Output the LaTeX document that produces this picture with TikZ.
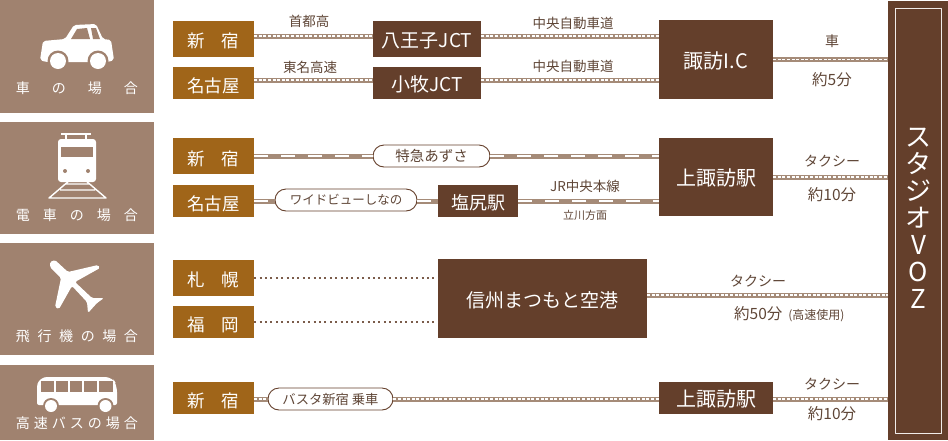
\documentclass[tikz,border=0pt]{standalone}
\usepackage{fontspec}
\setmainfont{Noto Sans CJK JP}
\usetikzlibrary{positioning,shapes.misc}
\definecolor{panelbrown}{RGB}{160, 130, 111}
\definecolor{ochre}{RGB}{160, 101, 25}
\definecolor{darkbrown}{RGB}{100, 63, 43}
\definecolor{linebrown}{RGB}{165, 139, 120}
\definecolor{textbrown}{RGB}{95, 70, 55}

\begin{document}
\begin{tikzpicture}[x=1pt,y=-1pt,line join=round,
    panel/.style={fill=panelbrown,draw=none,inner sep=0pt,minimum width=154pt,anchor=north west},
    panellabel/.style={text=white,font=\fontsize{14}{14}\selectfont,inner sep=0pt},
    icon/.style={fill=white,draw=none},
    iconcut/.style={fill=panelbrown,draw=none},
    cityA/.style={fill=ochre,text=white,inner sep=0pt,minimum width=81pt,text height=18pt,text depth=0pt,font=\fontsize{17.5}{17.5}\selectfont},
    hub/.style={fill=darkbrown,text=white,inner sep=0pt,text height=17pt,text depth=0pt,font=\fontsize{19}{19}\selectfont},
    pill/.style={rounded rectangle,draw=darkbrown,fill=white,line width=0.9pt,inner sep=0pt,text=textbrown,minimum height=22pt},
    note/.style={text=textbrown,inner sep=0pt,font=\fontsize{15.5}{16}\selectfont},
    smallnote/.style={note,font=\fontsize{13.5}{14}\selectfont},
    road/.style={draw=linebrown,line width=5pt,postaction={draw=white,line width=1.3pt,dash pattern=on 3pt off 1.6pt}},
    rail/.style={draw=linebrown,line width=5pt,postaction={draw=white,line width=2.4pt,dash pattern=on 13.5pt off 13.5pt}},
    dots/.style={draw=darkbrown!85!white,line width=2pt,dash pattern=on 2pt off 3.4pt}]
    \useasboundingbox (0,0) rectangle (948,440);

    % left panels
    \node[panel,minimum height=113pt] (carpanel) at (0,0) {};
    \node[panel,minimum height=112pt] (trainpanel) at (0,122) {};
    \node[panel,minimum height=112pt] (planepanel) at (0,243) {};
    \node[panel,minimum height=75pt] (buspanel) at (0,365) {};
    \node[panellabel] at (77,88) {車\hspace{22pt}の\hspace{22pt}場\hspace{22pt}合};
    \node[panellabel] at (77,215) {電\hspace{13pt}車\hspace{13pt}の\hspace{13pt}場\hspace{13pt}合};
    \node[panellabel] at (77,336) {飛\hspace{7.6pt}行\hspace{7.6pt}機\hspace{7.6pt}の\hspace{7.6pt}場\hspace{7.6pt}合};
    \node[panellabel] at (77,423) {高\hspace{4pt}速\hspace{4pt}バ\hspace{4pt}ス\hspace{4pt}の\hspace{4pt}場\hspace{4pt}合};

    % car
    \fill[icon,rounded corners=2pt] (40,60) -- (43,41) -- (65,39) -- (74,25) -- (96,24) -- (103,39) -- (111,40) -- (114,60) -- (108,62) -- (46,62) -- cycle;
    \fill[iconcut] (71,39) -- (77,29) -- (87,28) -- (90,39) -- cycle;
    \fill[iconcut] (91,28) -- (96,28) -- (100,39) -- (93,39) -- cycle;
    \fill[iconcut] (58,61) circle (10.5);
    \fill[iconcut] (98,61) circle (10.5);
    \fill[icon] (58,61) circle (8);
    \fill[icon] (98,61) circle (8);

    % train
    \draw[white,line width=1.6pt] (61,134) -- (91,134) (66,134) -- (66,140) (86,134) -- (86,140);
    \fill[icon,rounded corners=3pt] (58,139) rectangle (96,182);
    \fill[iconcut] (61,147) rectangle (93,157);
    \fill[iconcut] (65,171) circle (2);
    \fill[iconcut] (88,171) circle (2);
    \draw[white,line width=1.4pt] (70,180) -- (49,198) -- (106,198) -- (85,180) (66,184) -- (89,184) (60,190) -- (95,190);

    % plane
    \fill[icon,rounded corners=1.5pt] (50,267) -- (50,262) -- (55,260) -- (68,272) -- (98,265) -- (100,268) -- (75,282) -- (92,298) -- (104,298) -- (97,303) -- (88,313) -- (87,302) -- (72,286) -- (59,309) -- (55,307) -- (61,278) -- cycle;

    % bus
    \fill[icon,rounded corners=2pt] (37,405) -- (37,385) [rounded corners=7pt] -- (40,377) -- (112,377) -- (117,385) [rounded corners=2pt] -- (117,405) -- cycle;
    \foreach \xa/\xb in {41/54,56/68,70/82,84/97,99/113}
        \fill[iconcut] (\xa,381) rectangle (\xb,392);
    \fill[iconcut] (51,406) circle (8);
    \fill[iconcut] (105.5,406) circle (8);
    \fill[icon] (51,406) circle (6);
    \fill[icon] (105.5,406) circle (6);

    % start boxes
    \node[cityA,minimum height=36pt] (shinjukuA) at (213.5,38.5) {新\hspace{17pt}宿};
    \node[cityA,minimum height=32pt] (nagoyaA) at (213.5,83) {名古屋};
    \node[cityA,minimum height=36pt] (shinjukuB) at (213.5,156) {新\hspace{17pt}宿};
    \node[cityA,minimum height=32pt] (nagoyaB) at (213.5,201) {名古屋};
    \node[cityA,minimum height=36pt] (sapporo) at (213.5,277.5) {札\hspace{17pt}幌};
    \node[cityA,minimum height=32pt] (fukuoka) at (213.5,322) {福\hspace{17pt}岡};
    \node[cityA,minimum height=32pt] (shinjukuC) at (213.5,398) {新\hspace{17pt}宿};

    % brown boxes
    \node[hub,minimum width=108pt,minimum height=36pt] (hachioji) at (427,38.5) {八王子JCT};
    \node[hub,minimum width=108pt,minimum height=32pt] (komaki) at (427,83) {小牧JCT};
    \node[hub,minimum width=114pt,minimum height=79pt,font=\fontsize{20}{20}\selectfont] (suwaIC) at (716,59.5) {諏訪I.C};
    \node[hub,minimum width=114pt,minimum height=78pt,font=\fontsize{20}{20}\selectfont] (kamisuwaA) at (716,177) {上諏訪駅};
    \node[hub,minimum width=80pt,minimum height=32pt,font=\fontsize{18}{18}\selectfont] (shiojiri) at (478,201) {塩尻駅};
    \node[hub,minimum width=209pt,minimum height=79pt] (airport) at (542.5,298.5) {信州まつもと空港};
    \node[hub,minimum width=114pt,minimum height=32pt,font=\fontsize{20}{20}\selectfont] (kamisuwaB) at (716,398) {上諏訪駅};
    \node[fill=darkbrown,minimum width=60pt,minimum height=439pt,inner sep=0pt,anchor=north west] (studio) at (888,1) {};
    \draw[white!85!panelbrown,line width=1pt] (895,8) rectangle (941,433);
    \node[text=white,align=center,inner sep=0pt,font=\fontsize{26}{27}\selectfont] at (918.5,218) {ス\\タ\\ジ\\オ\\V\\O\\Z};

    % pills
    \node[pill,minimum width=117pt,font=\fontsize{14.5}{15}\selectfont] (azusa) at (431.5,156) {特急あずさ};
    \node[pill,minimum width=142pt,font=\fontsize{12.5}{13}\selectfont] (shinano) at (346,200) {ワイドビューしなの};
    \node[pill,minimum width=125pt,font=\fontsize{13.3}{14}\selectfont] (busta) at (330.5,399) {バスタ新宿 乗車};

    % levels of the lines
    \coordinate (R1) at (0,36);
    \coordinate (R2) at (0,80);
    \coordinate (R3) at (0,399);
    \coordinate (R4) at (0,278);
    \coordinate (R5) at (0,295);

    \draw[road] (shinjukuA.east |- R1) -- (hachioji.west |- R1);
    \draw[road] (hachioji.east |- R1) -- (suwaIC.west |- R1);
    \draw[road] (nagoyaA.east |- R2) -- (komaki.west |- R2);
    \draw[road] (komaki.east |- R2) -- (suwaIC.west |- R2);
    \draw[road] (suwaIC.east) -- (suwaIC.east -| studio.west);

    \draw[rail] (shinjukuB.east) -- (azusa.west);
    \draw[rail] (azusa.east) -- (azusa.east -| kamisuwaA.west);
    \draw[rail] (nagoyaB.east) -- (nagoyaB.east -| shinano.west);
    \draw[rail] (shinano.east |- shiojiri.west) -- (shiojiri.west);
    \draw[rail] (shiojiri.east) -- (shiojiri.east -| kamisuwaA.west);
    \draw[road] (kamisuwaA.east) -- (kamisuwaA.east -| studio.west);

    \draw[dots] (sapporo.east |- R4) -- (airport.west |- R4);
    \draw[dots] (fukuoka.east) -- (fukuoka.east -| airport.west);
    \draw[road] (airport.east |- R5) -- (studio.west |- R5);

    \draw[road] (shinjukuC.east |- R3) -- (busta.west |- R3);
    \draw[road] (busta.east |- R3) -- (kamisuwaB.west |- R3);
    \draw[road] (kamisuwaB.east |- R3) -- (studio.west |- R3);

    % labels
    \node[smallnote] at (309,21) {首都高};
    \node[smallnote] at (310,67) {東名高速};
    \node[smallnote] at (573,23) {中央自動車道};
    \node[smallnote] at (573,66) {中央自動車道};
    \node[smallnote,font=\fontsize{14}{14}\selectfont] at (832,41) {車};
    \node[note] at (832,80) {約5分};
    \node[note,font=\fontsize{14}{14}\selectfont] at (832,161) {タクシー};
    \node[note] at (832,195) {約10分};
    \node[smallnote] at (585,186) {JR中央本線};
    \node[note,font=\fontsize{11}{11}\selectfont] at (585,215) {立川方面};
    \node[note,font=\fontsize{14}{14}\selectfont] at (758,281) {タクシー};
    \node[note,anchor=west] at (734,314) {約50分\hspace{6pt}{\fontsize{12}{12}\selectfont (高速使用)}};
    \node[note,font=\fontsize{14}{14}\selectfont] at (832,384) {タクシー};
    \node[note] at (832,414) {約10分};
\end{tikzpicture}
\end{document}
